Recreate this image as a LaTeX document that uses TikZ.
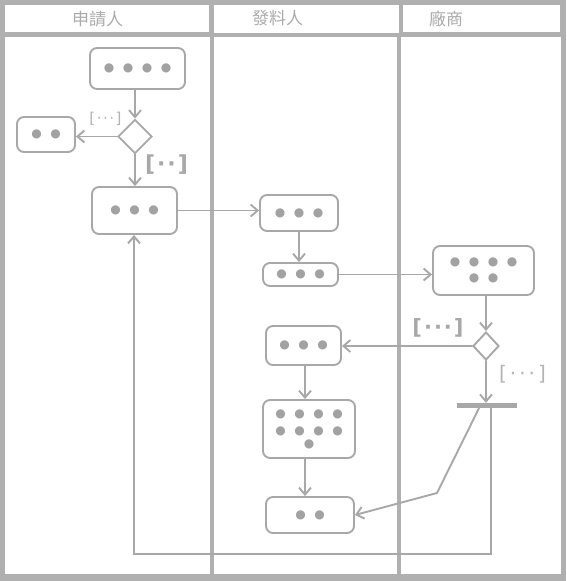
\documentclass[tikz,border=0pt]{standalone}
\usepackage{fontspec}
\newfontfamily\cjkfont{Noto Sans CJK TC}
\newfontfamily\dotfont{DejaVu Sans}
\usetikzlibrary{arrows.meta,shapes.geometric}
\newcommand\dd{\makebox[19pt]{●}}

\begin{document}
\begin{tikzpicture}[x=1pt,y=-1pt,line cap=round,
    actbox/.style={draw=linecolor,line width=1.9pt,rounded corners=7pt,fill=white,
      inner sep=0pt,text=dotcolor,font=\dotfont\fontsize{12}{16}\selectfont,align=center},
    choice/.style={diamond,draw=linecolor,line width=1.9pt,inner sep=0pt,fill=white},
    flow/.style={draw=linecolor,line width=1.9pt,-{Straight Barb[length=7pt,width=12pt]}},
    guard/.style={inner sep=0pt,text=guardcolor},
    lanetitle/.style={text=titlecolor,font=\cjkfont\fontsize{17}{17}\selectfont}]

    \definecolor{framecolor}{HTML}{B0B0B0}
    \definecolor{linecolor}{HTML}{A8A8A8}
    \definecolor{dotcolor}{HTML}{A2A2A2}
    \definecolor{titlecolor}{HTML}{ABABAB}
    \definecolor{guardcolor}{HTML}{B4B4B4}

    % swimlanes
    \fill[framecolor] (0,0) rectangle (566,581);
    \useasboundingbox (0,0) rectangle (566,581);
    \fill[white] (5,5) rectangle (209,32);
    \fill[white] (214,5) rectangle (399,33);
    \fill[white] (403,5) rectangle (560,32);
    \fill[white] (5,37) rectangle (210,574);
    \fill[white] (214,37) rectangle (397,574);
    \fill[white] (401,37) rectangle (561,574);

    \node[lanetitle] (applicant) at (97.5,19) {申請人};
    \node[lanetitle] (issuer) at (277.5,18) {發料人};
    \node[lanetitle] (vendor) at (446,19) {廠商};

    % applicant lane
    \node[actbox,minimum width=95pt,minimum height=41pt] (A) at (137.5,68.5) {\dd\dd\dd\dd};
    \node[choice,minimum width=34pt,minimum height=34pt] (D1) at (135,136.5) {};
    \node[actbox,minimum width=58pt,minimum height=35pt] (B) at (46,134.5) {\dd\dd};
    \node[actbox,minimum width=85pt,minimum height=47pt] (C) at (134.5,210.5) {\dd\dd\dd};

    % issuer lane
    \node[actbox,minimum width=78pt,minimum height=36pt] (E) at (299,213) {\dd\dd\dd};
    \node[actbox,minimum width=75pt,minimum height=23pt] (F) at (300.5,274.5) {\dd\dd\dd};
    \node[actbox,minimum width=75pt,minimum height=39pt] (G) at (303.5,345.5) {\dd\dd\dd};
    \node[actbox,minimum width=92pt,minimum height=58pt] (H) at (309,429) {\dd\dd\dd\dd\\[1pt]\dd\dd\dd\dd\\[-3pt]\dd};
    \node[actbox,minimum width=88pt,minimum height=36pt] (I) at (310,515) {\dd\dd};

    % vendor lane
    \node[actbox,minimum width=101pt,minimum height=49pt] (J) at (483.5,270.5) {\dd\dd\dd\dd\\\dd\dd};
    \node[choice,minimum width=26pt,minimum height=28pt] (D2) at (486,346) {};
    \node[fill=linecolor,inner sep=0pt,minimum width=60pt,minimum height=5pt] (fork) at (487,405.5) {};

    % guards
    \node[guard,font=\dotfont\fontsize{15}{15}\selectfont] (g1) at (105.5,119) {[\hspace{1.5pt}·\hspace{1.5pt}·\hspace{1.5pt}·\hspace{1.5pt}]};
    \node[guard,text=linecolor,font=\dotfont\bfseries\fontsize{22}{22}\selectfont] (g2) at (166.5,165) {[\hspace{2pt}·\hspace{2pt}·\hspace{2pt}]};
    \node[guard,text=linecolor,font=\dotfont\bfseries\fontsize{21}{21}\selectfont] (g3) at (438,327.5) {[\hspace{2pt}·\hspace{2pt}·\hspace{2pt}·\hspace{2pt}]};
    \node[guard,font=\dotfont\fontsize{20}{20}\selectfont] (g4) at (522.5,374.5) {[\hspace{3pt}·\hspace{3pt}·\hspace{3pt}·\hspace{3pt}]};

    \coordinate (kink) at (437,493);
    \coordinate (back) at (134,554);

    % flows
    \draw[flow] (A.south -| D1) -- (D1.north);
    \draw[flow] (D1.west) -- (D1.west -| B.east);
    \draw[flow] (D1.south) -- (D1.south |- C.north);
    \draw[flow] (C.east) -- (C.east -| E.west);
    \draw[flow] (E.south) -- (E.south |- F.north);
    \draw[flow] (F.east) -- (F.east -| J.west);
    \draw[flow] (J.south -| D2) -- (D2.north);
    \draw[flow] (D2.west) -- (D2.west -| G.east);
    \draw[flow] (D2.south) -- (D2.south |- fork.north);
    \draw[flow] ([xshift=1.5pt]G.south) -- ([xshift=1.5pt]G.south |- H.north);
    \draw[flow] ([xshift=1.5pt]G.south |- H.south) -- ([xshift=1.5pt]G.south |- I.north);
    \draw[flow] ([xshift=-8pt]fork.south) -- (kink) -- (I.east);
    \draw[flow] ([xshift=4pt]fork.south) |- (back) -- (back |- C.south);

\end{tikzpicture}
\end{document}
